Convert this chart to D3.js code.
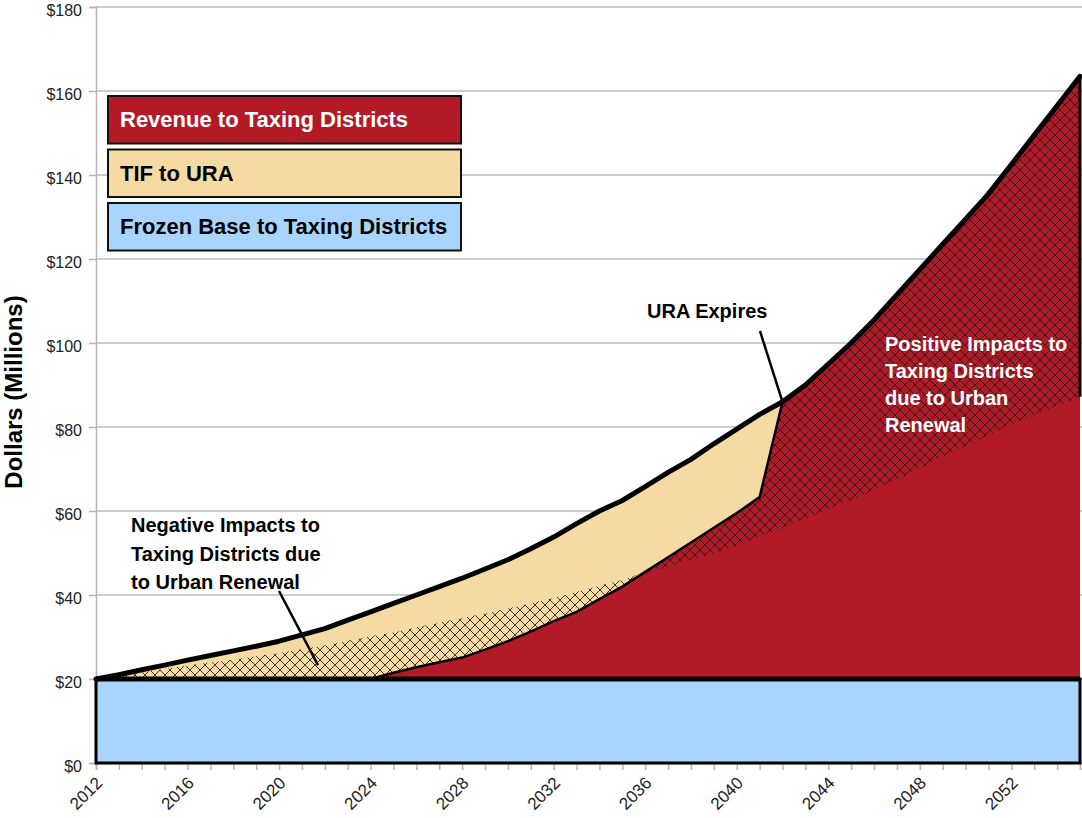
<!DOCTYPE html>
<html><head><meta charset="utf-8">
<script src="https://cdn.jsdelivr.net/npm/d3@7"></script>
<style>
body{margin:0;background:#fff;}
text{font-family:"Liberation Sans",Arial,Helvetica,sans-serif;}
</style></head><body>
<svg id="chart" width="1082" height="818"></svg>
<script>
// ---------- data ----------
const years = [2012,2013,2014,2015,2016,2017,2018,2019,2020,2021,2022,2023,2024,2025,2026,2027,2028,2029,2030,2031,2032,2033,2034,2035,2036,2037,2038,2039,2040,2041,2042,2043,2044,2045,2046,2047,2048,2049,2050,2051,2052,2053,2054,2055];
const frozenBase = [20,20,20,20,20,20,20,20,20,20,20,20,20,20,20,20,20,20,20,20,20,20,20,20,20,20,20,20,20,20,20,20,20,20,20,20,20,20,20,20,20,20,20,20];
const revenueToTaxing = [0,0,0,0,0,0,0,0,0,0,0,0,0,1.5,2.8,4,5.1,7,9,11.3,13.8,16,19,22,25.5,29,32.5,36,39.5,43.3,66,70,75,80,85.5,91.5,97.5,103.5,109.5,115.5,122.5,129.5,136.5,143.5];
const tifToURA = [0,1,2.2,3.3,4.5,5.6,6.7,7.8,9,10.5,12,14,16,16.5,17.2,18,18.9,19.2,19.4,19.7,20,21,21,20.5,20.3,20.2,19.8,20,20,19.7,0,0,0,0,0,0,0,0,0,0,0,0,0,0];
const withoutURA = [20,20.8,21.6,22.4,23.2,23.9,24.6,25.4,26.2,27.1,28,29.1,30.2,31.1,32.3,33.4,34.5,35.6,36.8,38,39.3,40.7,42.2,43.6,45.2,46.8,48.4,50,51.8,54,56,58.2,60.4,62.6,65,67.5,70,73,75.5,78,80.7,83,85,87.2];
const yTicks = [0,20,40,60,80,100,120,140,160,180];
const xLabelYears = [2012,2016,2020,2024,2028,2032,2036,2040,2044,2048,2052];
const legendLabels = ["Revenue to Taxing Districts","TIF to URA","Frozen Base to Taxing Districts"];
const legendColors = ["#B31A28","#F5DBA3","#A9D5FD"];
const legendTextColors = ["#ffffff","#000000","#000000"];
const uraExpiresYear = 2042;
const negativeLabel = ["Negative Impacts to","Taxing Districts due","to Urban Renewal"];
const positiveLabel = ["Positive Impacts to","Taxing Districts","due to Urban","Renewal"];

// ---------- setup ----------
const svg = d3.select("#chart");
const x = d3.scaleLinear().domain([2012,2055]).range([96,1080]);
const y = d3.scaleLinear().domain([0,180]).range([763,7]);

const rows = years.map((yr,i)=>({year:yr, base:frozenBase[i], rev:revenueToTaxing[i], tif:tifToURA[i], cf:withoutURA[i]}));
const series = d3.stack().keys(["base","rev","tif"])(rows);

const defs = svg.append("defs");
const pat = defs.append("pattern").attr("id","hatch").attr("patternUnits","userSpaceOnUse")
  .attr("width",10).attr("height",10);
pat.append("path").attr("d","M0,0L10,10M10,0L0,10M-1,9L1,11M9,-1L11,1M-1,1L1,-1M9,11L11,9")
  .attr("stroke","#1a1a1a").attr("stroke-width",1).attr("fill","none").attr("opacity",0.85);

// gridlines
svg.append("g").selectAll("line").data(yTicks).join("line")
  .attr("x1",x(2012)).attr("x2",1082).attr("y1",d=>y(d)).attr("y2",d=>y(d))
  .attr("stroke","#bdbdbd").attr("stroke-width",1.5);

// axes
const yAxis = svg.append("g").attr("transform",`translate(${x(2012)},0)`)
  .call(d3.axisLeft(y).tickValues(yTicks).tickFormat(d=>"$"+d).tickSize(7).tickPadding(7));
yAxis.attr("font-size",16);
yAxis.select(".domain").attr("stroke","#b5b5b5").attr("stroke-width",1.5);
yAxis.selectAll(".tick line").attr("stroke","#b5b5b5").attr("stroke-width",1.5);
yAxis.selectAll("text").attr("font-size",16).attr("fill","#222").attr("dy","0.55em");

const xAxis = svg.append("g").attr("transform",`translate(0,${y(0)})`)
  .call(d3.axisBottom(x).tickValues(years).tickSize(7).tickFormat(d=>xLabelYears.includes(d)?String(d):""));
xAxis.attr("font-size",17);
xAxis.select(".domain").attr("stroke","#b5b5b5").attr("stroke-width",1.5);
xAxis.selectAll(".tick line").attr("stroke","#b5b5b5").attr("stroke-width",1.5);
xAxis.selectAll("text").attr("font-size",17).attr("fill","#222")
  .attr("text-anchor","end").attr("dy",null).attr("y",null)
  .attr("transform","translate(7,21) rotate(-45)");

// areas
const baseArea = d3.area().x(d=>x(d.data.year)).y0(d=>y(d[0])).y1(d=>y(d[1]));
svg.append("path").datum(series[0]).attr("d",baseArea).attr("fill",legendColors[2]);
svg.append("path").datum(series[2].filter(d=>d.data.year<=uraExpiresYear)).attr("d",baseArea).attr("fill",legendColors[1]);
svg.append("path").datum(series[1].filter(d=>d.data.year>=2024)).attr("d",baseArea).attr("fill",legendColors[0]);

// hatch between counterfactual and actual taxing-district revenue
const hatchArea = d3.area().x(d=>x(d.year))
  .y0(d=>y(Math.min(d.cf, d.base+d.rev))).y1(d=>y(Math.max(d.cf, d.base+d.rev)));
svg.append("path").datum(rows).attr("d",hatchArea).attr("fill","url(#hatch)");

// outlines
const last = rows[rows.length-1];
svg.append("line").attr("x1",x(last.year)).attr("x2",x(last.year))
  .attr("y1",y(last.cf)).attr("y2",y(last.base+last.rev+last.tif))
  .attr("stroke","#000").attr("stroke-width",3);

svg.append("path").datum(rows.filter(d=>d.year>=2024 && d.year<=uraExpiresYear))
  .attr("d",d3.line().x(d=>x(d.year)).y(d=>y(d.base+d.rev)))
  .attr("fill","none").attr("stroke","#000").attr("stroke-width",2.5).attr("stroke-linejoin","round");

svg.append("rect").attr("x",x(2012)).attr("y",y(20)).attr("width",x(2055)-x(2012)).attr("height",y(0)-y(20))
  .attr("fill","none").attr("stroke","#000").attr("stroke-width",3);
svg.append("line").attr("x1",x(2012)).attr("x2",x(2055)).attr("y1",y(20)).attr("y2",y(20))
  .attr("stroke","#000").attr("stroke-width",5);

svg.append("path").datum(rows)
  .attr("d",d3.line().x(d=>x(d.year)).y(d=>y(d.base+d.rev+d.tif)))
  .attr("fill","none").attr("stroke","#000").attr("stroke-width",5).attr("stroke-linejoin","round").attr("stroke-linecap","round");

// y title
svg.append("text").attr("transform","translate(22,392) rotate(-90)").attr("text-anchor","middle")
  .attr("font-size",24).attr("font-weight","bold").attr("fill","#000").text("Dollars (Millions)");

// legend
const lg = svg.append("g");
legendLabels.forEach((lab,i)=>{
  const yy = 96 + i*53.5;
  lg.append("rect").attr("x",108).attr("y",yy).attr("width",353).attr("height",47.5)
    .attr("fill",legendColors[i]).attr("stroke","#111").attr("stroke-width",2);
  lg.append("text").attr("x",120).attr("y",yy+31).attr("font-size",22).attr("font-weight","bold")
    .attr("fill",legendTextColors[i]).text(lab);
});

// annotations
svg.append("text").attr("x",647).attr("y",318).attr("font-size",20).attr("font-weight","bold").text("URA Expires");
svg.append("line").attr("x1",760).attr("y1",331).attr("x2",x(uraExpiresYear)).attr("y2",y(frozenBase[30]+revenueToTaxing[30]+tifToURA[30]))
  .attr("stroke","#000").attr("stroke-width",2.5);

negativeLabel.forEach((t,i)=>{
  svg.append("text").attr("x",131).attr("y",532+i*28.5).attr("font-size",20).attr("font-weight","bold").attr("fill","#000").text(t);
});
svg.append("line").attr("x1",279).attr("y1",591).attr("x2",x(2021.7)).attr("y2",y(23.3))
  .attr("stroke","#000").attr("stroke-width",2.5);

positiveLabel.forEach((t,i)=>{
  svg.append("text").attr("x",885).attr("y",351+i*27).attr("font-size",20).attr("font-weight","bold").attr("fill","#fff").text(t);
});
</script>
</body></html>
